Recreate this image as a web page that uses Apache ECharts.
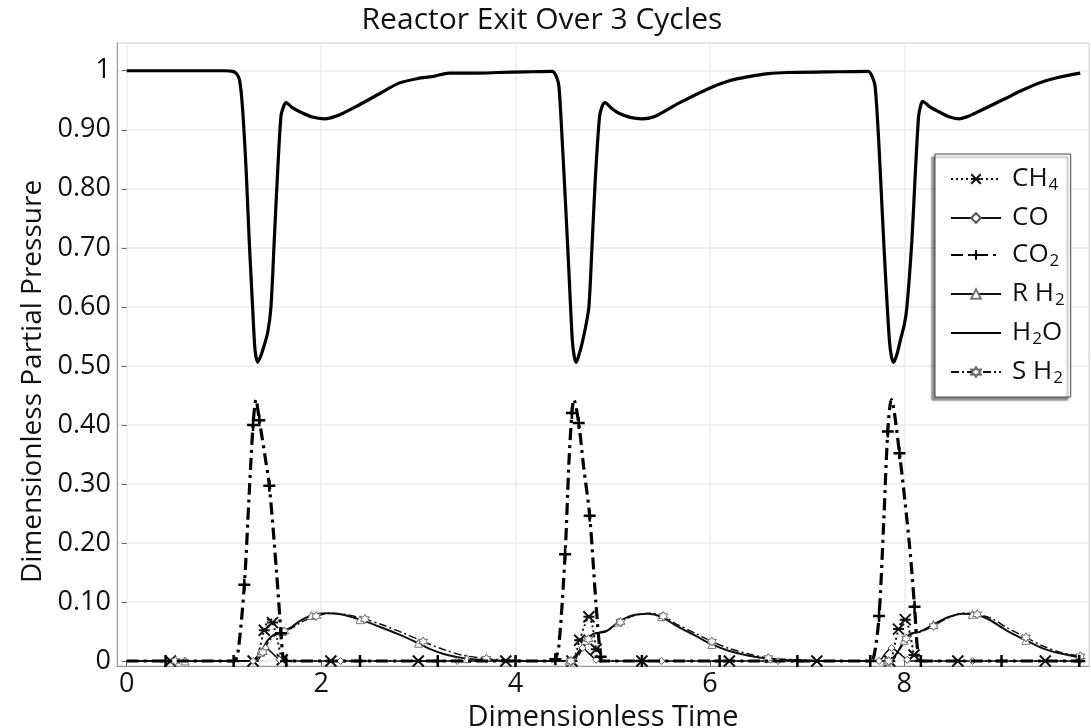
<!DOCTYPE html>
<html>
<head>
<meta charset="utf-8">
<script src="https://cdn.jsdelivr.net/npm/echarts@6/dist/echarts.min.js"></script>
<style>
html,body{margin:0;padding:0;background:#fff;}
#chart{width:1091px;height:728px;}
</style>
</head>
<body>
<div id="chart"></div>
<script>
// ---- data ----
const seriesNames = ['CH4', 'CO', 'CO2', 'R H2', 'H2O', 'S H2'];
const xTicks = [0, 2, 4, 6, 8];
const yTicks = [0, 0.1, 0.2, 0.3, 0.4, 0.5, 0.6, 0.7, 0.8, 0.9, 1];
const yTickLabels = ['0', '0.10', '0.20', '0.30', '0.40', '0.50', '0.60', '0.70', '0.80', '0.90', '1'];

const h2o = [[0,1],[0.5,1],[1.0,1],[1.09,0.999],[1.13,0.995],[1.16,0.985],[1.19,0.94],[1.23,0.827],[1.26,0.713],[1.295,0.60],[1.32,0.527],[1.347,0.506],[1.375,0.515],[1.40,0.527],[1.45,0.556],[1.484,0.60],[1.518,0.713],[1.552,0.827],[1.587,0.923],[1.615,0.94],[1.638,0.946],[1.70,0.938],[1.775,0.931],[1.91,0.9215],[2.03,0.9186],[2.186,0.925],[2.39,0.942],[2.60,0.961],[2.80,0.979],[3.0,0.987],[3.14,0.990],[3.32,0.996],[3.6,0.996],[3.83,0.997],[4.1,0.998],[4.38,0.999],
  [4.42,0.99],[4.447,0.973],[4.48,0.883],[4.516,0.77],[4.55,0.657],[4.584,0.544],[4.605,0.515],[4.625,0.506],[4.655,0.52],[4.686,0.539],[4.72,0.565],[4.755,0.60],[4.79,0.713],[4.824,0.826],[4.865,0.923],[4.892,0.94],[4.92,0.946],[4.99,0.936],[5.064,0.928],[5.18,0.921],[5.30,0.9186],[5.44,0.923],[5.68,0.945],[5.99,0.97],[6.2,0.983],[6.4,0.99],[6.6,0.995],[6.8,0.997],[7.2,0.998],[7.63,0.999],
  [7.67,0.99],[7.70,0.973],[7.736,0.883],[7.77,0.77],[7.805,0.657],[7.846,0.544],[7.868,0.515],[7.89,0.506],[7.925,0.52],[7.96,0.544],[8.00,0.57],[8.027,0.60],[8.078,0.713],[8.113,0.826],[8.147,0.923],[8.17,0.942],[8.188,0.948],[8.27,0.938],[8.35,0.931],[8.46,0.922],[8.56,0.9186],[8.66,0.923],[8.765,0.931],[9.04,0.953],[9.2,0.966],[9.38,0.979],[9.59,0.989],[9.81,0.996]];

const co2 = [[0,0],[0.4,0],[0.8,0],[1.1,0],[1.143,0.013],[1.21,0.129],[1.26,0.283],[1.30,0.40],[1.33,0.443],[1.364,0.408],[1.42,0.35],[1.467,0.297],[1.545,0.143],[1.587,0.047],[1.61,0.005],[1.64,0],[2.0,0],[2.4,0],[2.8,0],[3.2,0],[3.6,0],[4.0,0],[4.38,0],
  [4.41,0.003],[4.447,0.027],[4.51,0.181],[4.55,0.338],[4.58,0.42],[4.60,0.443],[4.65,0.403],[4.70,0.33],[4.763,0.246],[4.83,0.092],[4.876,0.007],[4.9,0],[5.3,0],[5.7,0],[6.1,0],[6.5,0],[6.9,0],[7.3,0],[7.65,0],
  [7.69,0.01],[7.74,0.076],[7.787,0.232],[7.83,0.389],[7.866,0.443],[7.95,0.352],[8.054,0.195],[8.105,0.092],[8.14,0.013],[8.17,0],[8.6,0],[9.0,0],[9.4,0],[9.8,0]];

const ch4 = [[0,0],[0.45,0],[0.9,0],[1.3,0],[1.347,0.01],[1.415,0.052],[1.47,0.073],[1.50,0.065],[1.55,0.036],[1.60,0.002],[1.65,0],[2.1,0],[2.55,0],[3.0,0],[3.45,0],[3.9,0],[4.35,0],
  [4.58,0],[4.62,0.012],[4.66,0.035],[4.71,0.06],[4.755,0.075],[4.79,0.06],[4.83,0.02],[4.86,0],[5.3,0],[5.75,0],[6.2,0],[6.65,0],[7.1,0],[7.55,0],
  [7.85,0],[7.89,0.02],[7.94,0.054],[7.98,0.068],[8.01,0.07],[8.06,0.045],[8.10,0.01],[8.13,0],[8.55,0],[9.0,0],[9.45,0],[9.8,0]];

const co = [[0,0],[0.6,0],[1.2,0],[1.30,0],[1.36,0.01],[1.43,0.022],[1.50,0.013],[1.57,0.002],[1.62,0],[2.2,0],[2.8,0],[3.4,0],[4.0,0],
  [4.55,0],[4.62,0.01],[4.69,0.022],[4.76,0.012],[4.83,0.002],[4.88,0],[5.5,0],[6.1,0],[6.7,0],[7.3,0],
  [7.74,0],[7.80,0.012],[7.87,0.022],[7.94,0.014],[8.03,0.002],[8.08,0],[8.7,0],[9.3,0],[9.8,0]];

const rh2 = [[0,0],[0.6,0],[1.2,0],[1.32,0.002],[1.38,0.015],[1.45,0.035],[1.52,0.045],[1.60,0.050],[1.70,0.058],[1.775,0.067],[1.90,0.077],[2.05,0.081],[2.20,0.079],[2.40,0.07],[2.60,0.058],[2.80,0.045],[3.00,0.03],[3.11,0.021],[3.30,0.01],[3.50,0.004],[3.80,0.001],[4.2,0],[4.55,0],
  [4.60,0.002],[4.65,0.015],[4.72,0.035],[4.80,0.046],[4.93,0.05],[5.06,0.066],[5.20,0.077],[5.36,0.08],[5.50,0.075],[5.65,0.06],[5.85,0.043],[6.02,0.028],[6.20,0.017],[6.40,0.009],[6.60,0.004],[6.9,0.001],[7.3,0],[7.82,0],
  [7.87,0.002],[7.93,0.015],[8.00,0.035],[8.06,0.046],[8.15,0.049],[8.30,0.062],[8.45,0.074],[8.60,0.08],[8.70,0.079],[8.85,0.072],[9.05,0.052],[9.25,0.035],[9.43,0.021],[9.60,0.013],[9.81,0.006]];

const sh2 = [[0,0],[0.5,0],[1.0,0],[1.33,0],[1.40,0.015],[1.47,0.035],[1.55,0.046],[1.62,0.050],[1.72,0.058],[1.80,0.066],[1.95,0.076],[2.10,0.081],[2.25,0.079],[2.45,0.071],[2.65,0.06],[2.85,0.047],[3.05,0.033],[3.25,0.02],[3.45,0.01],[3.7,0.004],[4.0,0.001],[4.3,0],[4.57,0],
  [4.62,0.003],[4.68,0.018],[4.75,0.037],[4.83,0.047],[4.95,0.052],[5.08,0.066],[5.22,0.077],[5.38,0.081],[5.52,0.076],[5.65,0.063],[5.85,0.047],[6.02,0.033],[6.20,0.021],[6.40,0.012],[6.60,0.005],[6.9,0.002],[7.3,0],[7.84,0],
  [7.89,0.003],[7.95,0.018],[8.02,0.038],[8.09,0.047],[8.18,0.05],[8.30,0.059],[8.45,0.073],[8.62,0.081],[8.75,0.079],[8.90,0.072],[9.05,0.057],[9.25,0.04],[9.43,0.025],[9.60,0.015],[9.81,0.008]];

// ---- chart ----
const FONT = '"Open Sans", "Noto Sans", sans-serif';
const asterisk = 'path://M0,0 L10,10 M10,0 L0,10 M0,5 L10,5';
const plus = 'path://M5,0 L5,10 M0,5 L10,5';
const hexStar = 'path://M5,0 L6.4,2.6 L9.3,2.5 L7.9,5 L9.3,7.5 L6.4,7.4 L5,10 L3.6,7.4 L0.7,7.5 L2.1,5 L0.7,2.5 L3.6,2.6 Z';

function every(step, size) {
  return function (v, p) { return p.dataIndex % step === 1 ? size : 0; };
}

const legendRich = {
  m: { fontSize: 26, fontFamily: FONT, color: '#111', lineHeight: 30, verticalAlign: 'middle' },
  s: { fontSize: 17, fontFamily: FONT, color: '#111', lineHeight: 17, verticalAlign: 'bottom', padding: [0, 0, 0, 1] }
};
const legendLabels = {
  'CH4': '{m|CH}{s|4}',
  'CO': '{m|CO}',
  'CO2': '{m|CO}{s|2}',
  'R H2': '{m|R H}{s|2}',
  'H2O': '{m|H}{s|2}{m|O}',
  'S H2': '{m|S H}{s|2}'
};

const yMin = -0.0085, yMax = 1.047, xMin = -0.1, xMax = 9.9;

const option = {
  animation: false,
  backgroundColor: '#fff',
  title: {
    text: 'Reactor Exit Over 3 Cycles',
    left: 537, top: 0, textAlign: 'center',
    textStyle: { fontFamily: FONT, fontSize: 30, fontWeight: 'normal', color: '#111' }
  },
  grid: { left: 117, right: 2, top: 43, bottom: 62, show: true, borderColor: '#c8c8c8', borderWidth: 1, containLabel: false, outerBoundsMode: 'none' },
  legend: {
    orient: 'vertical', left: 935, top: 154,
    padding: [12, 6, 10, 15], itemGap: 11,
    itemWidth: 50, itemHeight: 12,
    backgroundColor: '#fff', borderColor: '#444', borderWidth: 1,
    shadowColor: 'rgba(0,0,0,0.45)', shadowOffsetX: -3, shadowOffsetY: 3, shadowBlur: 2,
    data: [
      { name: 'CH4' }, { name: 'CO' }, { name: 'CO2' }, { name: 'R H2' },
      { name: 'H2O', itemStyle: { opacity: 0 } }, { name: 'S H2' }
    ],
    formatter: function (n) { return legendLabels[n]; },
    textStyle: { rich: legendRich, padding: [0, 0, 0, 6], height: 30 }
  },
  xAxis: [{
    type: 'value', min: xMin, max: xMax,
    name: 'Dimensionless Time', nameLocation: 'middle', nameGap: 31,
    nameTextStyle: { fontFamily: FONT, fontSize: 29, color: '#111' },
    axisLine: { onZero: false, lineStyle: { color: '#999', width: 1 } },
    axisTick: { show: false, customValues: xTicks },
    axisLabel: { customValues: xTicks, margin: 5, fontFamily: FONT, fontSize: 27, color: '#111', formatter: v => String(v) },
    splitLine: { show: true, lineStyle: { color: '#ebeeee', width: 1.5 } }
  }, {
    type: 'value', min: xMin, max: xMax, position: 'top',
    axisLine: { show: false },
    axisTick: { show: true, inside: true, length: 5, customValues: xTicks, lineStyle: { color: '#666' } },
    axisLabel: { show: false }, splitLine: { show: false }
  }],
  yAxis: [{
    type: 'value', min: yMin, max: yMax,
    name: 'Dimensionless Partial Pressure', nameLocation: 'middle', nameGap: 70,
    nameTextStyle: { fontFamily: FONT, fontSize: 28, color: '#111', padding: [0, 54, 0, 0] },
    axisLine: { show: true, onZero: false, lineStyle: { color: '#999', width: 1 } },
    axisTick: { show: false, customValues: yTicks },
    axisLabel: {
      customValues: yTicks, margin: 6, fontFamily: FONT, fontSize: 27, color: '#111',
      formatter: function (v) { const i = yTicks.findIndex(t => Math.abs(t - v) < 1e-6); return i >= 0 ? yTickLabels[i] : ''; }
    },
    splitLine: { show: true, lineStyle: { color: '#ebeeee', width: 1.5 } }
  }, {
    type: 'value', min: yMin, max: yMax, position: 'right',
    axisLine: { show: false },
    axisTick: { show: true, inside: true, length: 5, customValues: yTicks, lineStyle: { color: '#666' } },
    axisLabel: { show: false }, splitLine: { show: false }
  }],
  series: [
    {
      name: 'CH4', type: 'line', data: ch4, smooth: 0.3, z: 3,
      symbol: asterisk, symbolSize: every(2, 11),
      lineStyle: { color: '#111', width: 2, type: [2, 3] },
      itemStyle: { color: '#111', borderColor: '#111', borderWidth: 2 }
    },
    {
      name: 'CO', type: 'line', data: co, smooth: 0.3, z: 3,
      symbol: 'diamond', symbolSize: every(2, 7),
      lineStyle: { color: '#111', width: 1.5 },
      itemStyle: { color: '#fff', borderColor: '#555', borderWidth: 1 }
    },
    {
      name: 'CO2', type: 'line', data: co2, smooth: 0.3, z: 4,
      symbol: plus, symbolSize: every(2, 12),
      lineStyle: { color: '#000', width: 3.2, type: [12, 5, 3, 5] },
      itemStyle: { color: '#000', borderColor: '#000', borderWidth: 2.5 }
    },
    {
      name: 'R H2', type: 'line', data: rh2, smooth: 0.3, z: 3,
      symbol: 'triangle', symbolSize: every(3, 8),
      lineStyle: { color: '#111', width: 2 },
      itemStyle: { color: '#fff', borderColor: '#777', borderWidth: 1 }
    },
    {
      name: 'H2O', type: 'line', data: h2o, smooth: 0.25, z: 5,
      showSymbol: false, symbol: 'none',
      lineStyle: { color: '#000', width: 3.2 },
      itemStyle: { color: '#000' }
    },
    {
      name: 'S H2', type: 'line', data: sh2, smooth: 0.3, z: 3,
      symbol: hexStar, symbolSize: every(3, 9),
      lineStyle: { color: '#111', width: 1.5, type: [8, 3, 2, 3] },
      itemStyle: { color: '#fff', borderColor: '#666', borderWidth: 1 }
    }
  ]
};

const chart = echarts.init(document.getElementById('chart'), null, { renderer: 'canvas' });
chart.setOption(option);
</script>
</body>
</html>
